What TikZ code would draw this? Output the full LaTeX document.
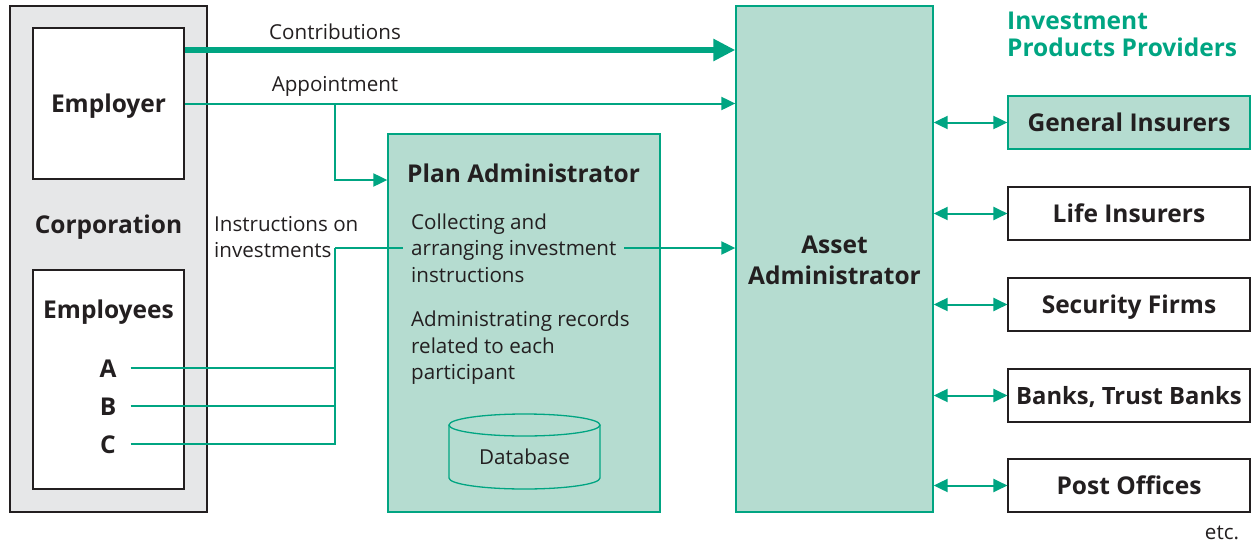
\documentclass[tikz,border=0pt]{standalone}
\usepackage{fontspec}
\setmainfont{Open Sans}
\usetikzlibrary{arrows.meta,calc}
\definecolor{tealc}{HTML}{00A582}
\definecolor{tealfill}{HTML}{B5DCD0}
\definecolor{grayfill}{HTML}{E6E7E8}
\definecolor{ink}{HTML}{231F20}
\begin{document}
\begin{tikzpicture}[x=1pt,y=-1pt,
  every node/.style={text=ink, inner sep=0pt},
  reg/.style={font=\fontsize{20.6}{26.5}\selectfont},
  bld/.style={font=\fontsize{24.5}{27}\selectfont\bfseries},
  bldone/.style={bld, text height=17.5pt, text depth=0pt},
  whitebox/.style={draw=ink, line width=1.1pt, fill=white, rectangle},
  tealbox/.style={draw=tealc, line width=1.3pt, fill=tealfill, rectangle},
  conn/.style={draw=tealc, line width=2pt},
  tip/.style={-{Triangle[length=14pt,width=13pt]}},
  dtip/.style={{Triangle[length=14pt,width=13pt]}-{Triangle[length=14pt,width=13pt]}}
]
\useasboundingbox (0,0) rectangle (1256,544);
% corporation
\node[draw=ink, line width=1.3pt, fill=grayfill, minimum width=197pt, minimum height=506pt] (corp) at (108.5,259) {};
\node[whitebox, minimum width=151pt, minimum height=151pt] (employer) at (108.5,103.5) {};
\node[bldone] (emplrlabel) at (108.5,104) {Employer};
\node[bldone] (corplabel) at (108.5,224.5) {Corporation};
\node[whitebox, minimum width=151pt, minimum height=219pt] (employees) at (108.5,379.5) {};
\node[bldone] (emplabel) at (108.5,309.5) {Employees};
\node[bldone] (A) at (108,369) {A};
\node[bldone] (B) at (108,407) {B};
\node[bldone] (C) at (108,445) {C};
% plan admin
\node[tealbox, minimum width=272pt, minimum height=378pt] (pa) at (524,323) {};
\node[bldone, anchor=west] (patitle) at (407,173.5) {Plan Administrator};
% asset admin
\node[tealbox, minimum width=197pt, minimum height=506pt] (aa) at (834.5,259) {};
\node[bld, align=center] (aalabel) at (834.5,260) {Asset\\[4pt]Administrator};
% providers
\node[bld, text=tealc, align=left, anchor=west] (ipp) at (1007,34.5) {Investment\\Products Providers};
\node[tealbox, minimum width=242pt, minimum height=53pt] (p1) at (1129,122.5) {};
\node[whitebox, minimum width=242pt, minimum height=53pt] (p2) at (1129,213.5) {};
\node[whitebox, minimum width=242pt, minimum height=53pt] (p3) at (1129,304.5) {};
\node[whitebox, minimum width=242pt, minimum height=53pt] (p4) at (1129,395.5) {};
\node[whitebox, minimum width=242pt, minimum height=53pt] (p5) at (1129,485.5) {};
\node[bldone] (l1) at (p1) {General Insurers};
\node[bldone] (l2) at (p2) {Life Insurers};
\node[bldone] (l3) at (p3) {Security Firms};
\node[bldone, font=\fontsize{23.8}{27}\selectfont\bfseries] (l4) at (p4) {Banks, Trust Banks};
\node[bldone] (l5) at (p5) {Post Offices};
\node[reg] (etc) at (1222,533) {etc.};
\foreach \i in {1,...,5} {
  \draw[conn, dtip] (aa.east |- p\i.west) -- (p\i.west);
}
% coordinates
\coordinate (cy) at (0,50);
\coordinate (br) at (335,103.5);
\coordinate (apy) at (0,180);
\coordinate (jtop) at (335,248);
\coordinate (ja) at (335,368);
\coordinate (jb) at (335,406);
\coordinate (jc) at (335,444);
% contributions
\draw[draw=tealc, line width=6pt, -{Triangle[length=22pt,width=21pt]}] (employer.east |- cy) -- (aa.west |- cy);
\node[reg] (contlabel) at (335,32) {Contributions};
% appointment
\draw[conn, tip] (employer.east) -- (aa.west |- employer.east);
\node[reg] (applabel) at (335,86) {Appointment};
\draw[conn, tip] (br) |- (pa.west |- apy);
% instructions
\draw[conn] ([xshift=14pt]A.east |- ja) -- (ja);
\draw[conn] ([xshift=14pt]A.east |- jb) -- (jb);
\draw[conn] ([xshift=14pt]A.east |- jc) -- (jc) -- (jtop);
\draw[conn, tip] (jtop) -- (aa.west |- jtop);
\node[reg, align=left, anchor=west] (instr) at (214,237) {Instructions on\\investments};
\node[reg, align=left, anchor=west, fill=tealfill, inner xsep=8pt, inner ysep=3pt] (collect) at (403,248) {Collecting and\\arranging investment\\instructions};
\node[reg, align=left, anchor=west] (records) at (411,348) {Administrating records\\related to each\\participant};
% database
\fill[tealfill] (449,425) -- (449,478) arc[start angle=180,end angle=360,x radius=75.5pt,y radius=11pt] -- (600,425) -- cycle;
\draw[draw=tealc, line width=1.3pt] (449,425) -- (449,478) arc[start angle=180,end angle=360,x radius=75.5pt,y radius=11pt] -- (600,425);
\draw[draw=tealc, line width=1.3pt, fill=tealfill] (524.5,425) ellipse[x radius=75.5pt, y radius=11pt];
\node[reg] (db) at (524.5,457) {Database};
\end{tikzpicture}
\end{document}
